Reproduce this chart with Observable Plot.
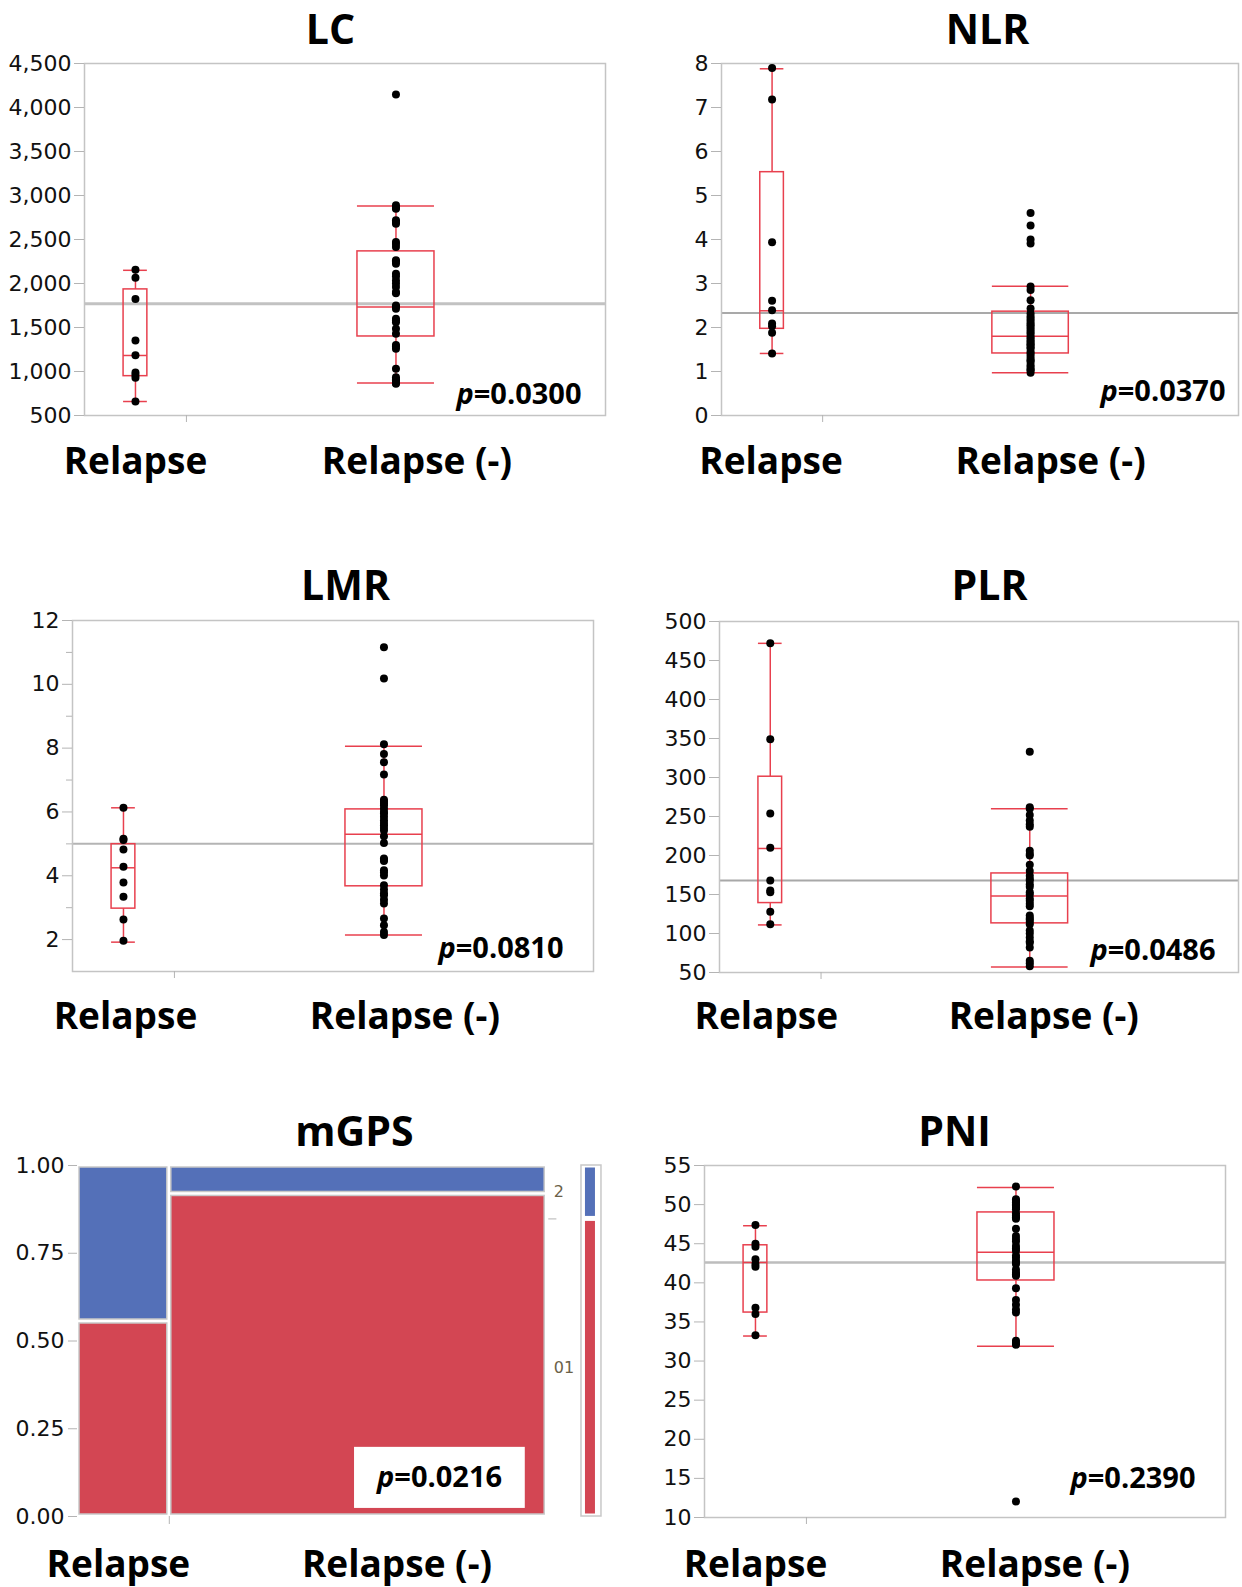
<!DOCTYPE html>
<html>
<head>
<meta charset="utf-8">
<script src="https://cdn.jsdelivr.net/npm/d3@7"></script>
<script src="https://cdn.jsdelivr.net/npm/@observablehq/plot@0.6"></script>
<style>
  html, body { margin: 0; padding: 0; background: #fff; }
  #root { position: relative; width: 1242px; height: 1587px; overflow: hidden; background: #fff; }
  .panel { position: absolute; }
  .panel svg { overflow: visible; }
</style>
</head>
<body>
<div id="root"></div>
<script>
// ---------- data ----------
const groups = ["Relapse", "Relapse (-)"];
const groupN = [9, 37];

const lcRelapse = [2157, 2066, 1823, 1353, 1186, 989, 960, 928, 659];
const lcNoRelapse = [4147, 2888, 2860, 2850, 2718, 2700, 2680, 2472, 2450, 2415, 2263, 2250, 2225, 2111, 2080, 2035, 2000, 1959, 1902, 1890, 1751, 1740, 1713, 1599, 1580, 1561, 1486, 1429, 1300, 1285, 1258, 1031, 936, 910, 898, 870, 860];
const lcBox = [[659, 947, 1182, 1933, 2150], [868, 1398, 1732, 2365, 2880]]; // lo, q1, median, q3, hi
const lcMean = 1770;
const lcTicks = [500, 1000, 1500, 2000, 2500, 3000, 3500, 4000, 4500];
const lcP = "p=0.0300";

const nlrRelapse = [7.90, 7.18, 3.94, 2.61, 2.39, 2.09, 2.03, 1.88, 1.41];
const nlrNoRelapse = [4.60, 4.32, 4.00, 3.91, 2.93, 2.85, 2.62, 2.43, 2.32, 2.25, 2.20, 2.15, 2.09, 2.05, 2.00, 1.95, 1.90, 1.85, 1.79, 1.75, 1.70, 1.67, 1.62, 1.60, 1.55, 1.52, 1.45, 1.41, 1.35, 1.29, 1.25, 1.22, 1.15, 1.10, 1.05, 1.03, 0.97];
const nlrBox = [[1.41, 1.97, 2.38, 5.53, 7.88], [0.97, 1.41, 1.80, 2.36, 2.94]];
const nlrMean = 2.33;
const nlrTicks = [0, 1, 2, 3, 4, 5, 6, 7, 8];
const nlrP = "p=0.0370";

const lmrRelapse = [6.13, 5.16, 5.12, 4.82, 4.28, 3.79, 3.34, 2.63, 1.96];
const lmrNoRelapse = [11.16, 10.18, 8.12, 7.82, 7.56, 7.17, 6.38, 6.32, 6.26, 6.20, 6.10, 6.00, 5.95, 5.85, 5.74, 5.65, 5.58, 5.50, 5.42, 5.24, 5.03, 4.54, 4.50, 4.46, 4.17, 4.10, 4.01, 3.70, 3.57, 3.45, 3.39, 3.25, 3.13, 2.66, 2.45, 2.24, 2.14];
const lmrBox = [[1.92, 2.97, 4.25, 4.99, 6.13], [2.14, 3.67, 5.30, 6.08, 8.06]];
const lmrMean = 5.0;
const lmrTicks = [2, 4, 6, 8, 10, 12];
const lmrMinorTicks = [3, 5, 7, 9, 11];
const lmrP = "p=0.0810";

const plrRelapse = [472, 349, 254, 210, 168, 155, 153, 128, 112];
const plrNoRelapse = [333, 262, 260, 252, 245, 240, 237, 206, 202, 200, 188, 180, 174, 170, 168, 163, 160, 153, 150, 145, 142, 138, 135, 123, 120, 118, 115, 112, 104, 100, 95, 90, 88, 82, 65, 62, 58];
const plrBox = [[111, 139, 209, 301, 472], [57, 113, 148, 177, 260]];
const plrMean = 168;
const plrTicks = [50, 100, 150, 200, 250, 300, 350, 400, 450, 500];
const plrP = "p=0.0486";

const pniRelapse = [47.4, 45.0, 44.6, 43.0, 42.4, 42.05, 36.8, 36.0, 33.3];
const pniNoRelapse = [52.3, 50.7, 50.5, 50.3, 50.0, 49.9, 49.6, 49.4, 48.9, 48.6, 48.4, 48.2, 46.9, 46.0, 45.6, 45.3, 44.7, 44.4, 44.1, 43.5, 43.2, 42.8, 42.6, 42.4, 41.7, 41.3, 41.1, 40.9, 39.3, 37.8, 37.2, 36.6, 36.2, 32.6, 32.3, 32.1, 12.05];
const pniBox = [[33.2, 36.2, 42.6, 44.8, 47.3], [31.9, 40.3, 43.9, 49.0, 52.2]];
const pniMean = 42.6;
const pniTicks = [10, 15, 20, 25, 30, 35, 40, 45, 50, 55];
const pniP = "p=0.2390";

const mgpsCategories = ["01", "2"];
const mgpsRelapse = [5, 4];
const mgpsNoRelapse = [34, 3];
const mgpsTicks = [0, 0.25, 0.5, 0.75, 1];
const mgpsP = "p=0.0216";

// ---------- style ----------
const RED = "#e8404e";
const GRID = "#b4b4b4";
const FRAME = "#c4c4c4";
const BOLD = "'Open Sans', 'DejaVu Sans', sans-serif";
const TICKFONT = "'DejaVu Sans', sans-serif";
const TICKSIZE = 22;
const total = groupN[0] + groupN[1];
const centers = [groupN[0] / 2, groupN[0] + groupN[1] / 2];
const boxHalf = [1.05, 3.4];
const root = document.getElementById("root");

function italicP(svg) {
  const ns = "http://www.w3.org/2000/svg";
  svg.querySelectorAll("text").forEach(t => {
    const s = t.textContent;
    if (s.startsWith("p=") && t.childElementCount === 0) {
      t.textContent = "";
      const a = document.createElementNS(ns, "tspan");
      a.setAttribute("font-style", "italic");
      a.textContent = "p";
      const b = document.createElementNS(ns, "tspan");
      b.textContent = s.slice(1);
      t.append(a, b);
    }
  });
}

function place(svg, sx, sy) {
  const div = document.createElement("div");
  div.className = "panel";
  div.style.left = sx + "px";
  div.style.top = sy + "px";
  div.appendChild(svg);
  root.appendChild(div);
  italicP(svg);
}

function labelMarks(xs, dxs, dy) {
  return groups.map((g, i) => Plot.text([g], {
    x: xs[i], frameAnchor: "bottom", dx: dxs[i], dy, lineAnchor: "bottom",
    fontSize: 37, fontWeight: 700, fontFamily: BOLD, fill: "#000"
  }));
}

function titleMark(title, dx, dy) {
  return Plot.text([title], {
    frameAnchor: "top", dx, dy, lineAnchor: "bottom",
    fontSize: 41, fontWeight: 700, fontFamily: BOLD, fill: "#000"
  });
}

function boxPanel(c) {
  const ml = c.L - c.sx, mr = c.sx + c.sw - c.R, mt = c.T - c.sy, mb = c.sy + c.sh - c.B;
  const rows = c.box.map((b, i) => ({
    x1: centers[i] - boxHalf[i], x2: centers[i] + boxHalf[i], c: centers[i],
    lo: b[0], q1: b[1], med: b[2], q3: b[3], hi: b[4]
  }));
  const pts = [
    ...c.rel.map(v => ({g: centers[0], v})),
    ...c.non.map(v => ({g: centers[1], v}))
  ];
  const frameCx = (c.L + c.R) / 2;
  const rs = {stroke: RED, strokeWidth: 1.5};
  const svg = Plot.plot({
    width: c.sw, height: c.sh,
    marginLeft: ml, marginRight: mr, marginTop: mt, marginBottom: mb,
    x: {domain: [0, total], axis: null, label: null},
    y: {domain: c.domain, axis: null, label: null},
    style: {fontFamily: TICKFONT, background: "none", overflow: "visible"},
    marks: [
      Plot.ruleY([c.mean], {stroke: c.meanColor, strokeWidth: c.meanWidth}),
      Plot.frame({stroke: FRAME, strokeWidth: 1.5}),
      Plot.axisY({ticks: c.ticks, tickSize: 10, tickPadding: 3, fontSize: TICKSIZE, stroke: GRID, fill: "#111", label: null}),
      c.minor ? Plot.axisY({ticks: c.minor, tickSize: 6, tickFormat: () => "", stroke: GRID, label: null}) : null,
      Plot.axisX({ticks: [groupN[0]], tickSize: 7, tickFormat: () => "", stroke: GRID, label: null}),
      Plot.ruleX(rows, {x: "c", y1: "q3", y2: "hi", ...rs}),
      Plot.ruleX(rows, {x: "c", y1: "lo", y2: "q1", ...rs}),
      Plot.rect(rows, {x1: "x1", x2: "x2", y1: "q1", y2: "q3", fill: "none", ...rs}),
      Plot.ruleY(rows, {y: "med", x1: "x1", x2: "x2", ...rs}),
      Plot.ruleY(rows, {y: "lo", x1: "x1", x2: "x2", ...rs}),
      Plot.ruleY(rows, {y: "hi", x1: "x1", x2: "x2", ...rs}),
      Plot.dot(pts, {x: "g", y: "v", r: 4, fill: "#000"}),
      Plot.text([c.p], {
        frameAnchor: "bottom-right", dx: -c.pRight, dy: -c.pBottom,
        textAnchor: "end", lineAnchor: "bottom",
        fontSize: 29, fontWeight: 700, fontFamily: BOLD, fill: "#000"
      }),
      ...labelMarks(centers, c.labelDx, c.labelBase - c.B),
      titleMark(c.title, c.titleX - frameCx, c.titleBase - c.T)
    ]
  });
  place(svg, c.sx, c.sy);
}

// Row 1
boxPanel({sx: 0, sy: 0, sw: 621, sh: 540, L: 84, R: 605, T: 63, B: 415,
  domain: [500, 4500], ticks: lcTicks, rel: lcRelapse, non: lcNoRelapse, box: lcBox,
  mean: lcMean, meanColor: "#c2c2c2", meanWidth: 2.8, p: lcP, pRight: 24, pBottom: 12,
  title: "LC", titleX: 330, titleBase: 43, labelBase: 473, labelDx: [0, 21]});
boxPanel({sx: 621, sy: 0, sw: 621, sh: 540, L: 721, R: 1238, T: 63, B: 415,
  domain: [0, 8], ticks: nlrTicks, rel: nlrRelapse, non: nlrNoRelapse, box: nlrBox,
  mean: nlrMean, meanColor: "#8c8c8c", meanWidth: 1.5, p: nlrP, pRight: 13, pBottom: 15,
  title: "NLR", titleX: 987, titleBase: 43, labelBase: 473, labelDx: [-1, 20]});
// Row 2
boxPanel({sx: 0, sy: 540, sw: 621, sh: 540, L: 72, R: 593, T: 620, B: 971,
  domain: [1, 12], ticks: lmrTicks, minor: lmrMinorTicks, rel: lmrRelapse, non: lmrNoRelapse, box: lmrBox,
  mean: lmrMean, meanColor: "#b4b4b4", meanWidth: 2, p: lmrP, pRight: 30, pBottom: 14,
  title: "LMR", titleX: 345, titleBase: 599, labelBase: 1028, labelDx: [2, 21]});
boxPanel({sx: 621, sy: 540, sw: 621, sh: 540, L: 719, R: 1238, T: 621, B: 972,
  domain: [50, 500], ticks: plrTicks, rel: plrRelapse, non: plrNoRelapse, box: plrBox,
  mean: plrMean, meanColor: "#a8a8a8", meanWidth: 2, p: plrP, pRight: 23, pBottom: 13,
  title: "PLR", titleX: 989, titleBase: 599, labelBase: 1028, labelDx: [-4, 14]});
// Row 3 right
boxPanel({sx: 621, sy: 1080, sw: 621, sh: 507, L: 704, R: 1225, T: 1165, B: 1517,
  domain: [10, 55], ticks: pniTicks, rel: pniRelapse, non: pniNoRelapse, box: pniBox,
  mean: pniMean, meanColor: "#bdbdbd", meanWidth: 2.4, p: pniP, pRight: 30, pBottom: 30,
  title: "PNI", titleX: 954, titleBase: 1145, labelBase: 1576, labelDx: [0, 19]});

// Row 3 left: mosaic
(function mosaic() {
  const sx = 0, sy = 1080, sw = 621, sh = 507;
  const L = 77, T = 1165, B = 1516, unit = 10.2, xMax = 52;
  const R = L + xMax * unit;
  const BLUE = "#5470b8", MRED = "#d34653";
  const colors = {"01": MRED, "2": BLUE};
  const cols = [mgpsRelapse, mgpsNoRelapse];
  const cells = [];
  let start = 0;
  cols.forEach((counts, i) => {
    const n = d3.sum(counts);
    let acc = 0;
    counts.forEach((k, j) => {
      cells.push({x1: start, x2: start + n, y1: acc / n, y2: (acc + k) / n, cat: mgpsCategories[j]});
      acc += k;
    });
    start += n;
  });
  const overallCounts = mgpsCategories.map((_, j) => mgpsRelapse[j] + mgpsNoRelapse[j]);
  const overallN = d3.sum(overallCounts);
  const overall = [];
  let acc = 0;
  overallCounts.forEach((k, j) => {
    overall.push({y1: acc / overallN, y2: (acc + k) / overallN, mid: (acc + k / 2) / overallN, cat: mgpsCategories[j]});
    acc += k;
  });
  const barX1 = 49.41, barX2 = 51.37, fillX1 = 49.8, fillX2 = 50.78;
  const mCenters = [groupN[0] / 2, groupN[0] + groupN[1] / 2];
  const svg = Plot.plot({
    width: sw, height: sh,
    marginLeft: L - sx, marginRight: sx + sw - R, marginTop: T - sy, marginBottom: sy + sh - B,
    x: {domain: [0, xMax], axis: null, label: null},
    y: {domain: [0, 1], axis: null, label: null},
    style: {fontFamily: TICKFONT, background: "none", overflow: "visible"},
    marks: [
      Plot.axisY({ticks: mgpsTicks, tickFormat: d3.format(".2f"), tickSize: 9, tickPadding: 4, fontSize: TICKSIZE, stroke: GRID, fill: "#111", label: null}),
      Plot.axisX({ticks: [groupN[0]], tickSize: 8, tickFormat: () => "", stroke: GRID, label: null}),
      Plot.rect(cells, {x1: "x1", x2: "x2", y1: "y1", y2: "y2", fill: d => colors[d.cat], stroke: "#c8c8c8", strokeWidth: 1.5, inset: 2}),
      Plot.rect([0], {x1: barX1, x2: barX2, y1: 0, y2: 1, fill: "none", stroke: "#c8c8c8", strokeWidth: 1.5}),
      Plot.rect(overall, {x1: fillX1, x2: fillX2, y1: "y1", y2: "y2", fill: d => colors[d.cat], insetTop: 2.5, insetBottom: 2.5}),
      Plot.ruleY([overall[0].y2], {x1: 46.2, x2: 47, stroke: GRID}),
      Plot.text(overall, {x: total, dx: 7, y: "mid", text: "cat", textAnchor: "start", fontSize: 16, fill: "#6b6148"}),
      Plot.rect([0], {x1: 27.16, x2: 43.9, y1: 0.023, y2: 0.197, fill: "#fff"}),
      Plot.text([mgpsP], {x: 35.5, y: 0.083, lineAnchor: "bottom", fontSize: 29, fontWeight: 700, fontFamily: BOLD, fill: "#000"}),
      ...labelMarks(mCenters, [-5, 39], 1576 - B),
      titleMark("mGPS", 354 - (L + R) / 2, 1145 - T)
    ]
  });
  place(svg, sx, sy);
})();
</script>
</body>
</html>
